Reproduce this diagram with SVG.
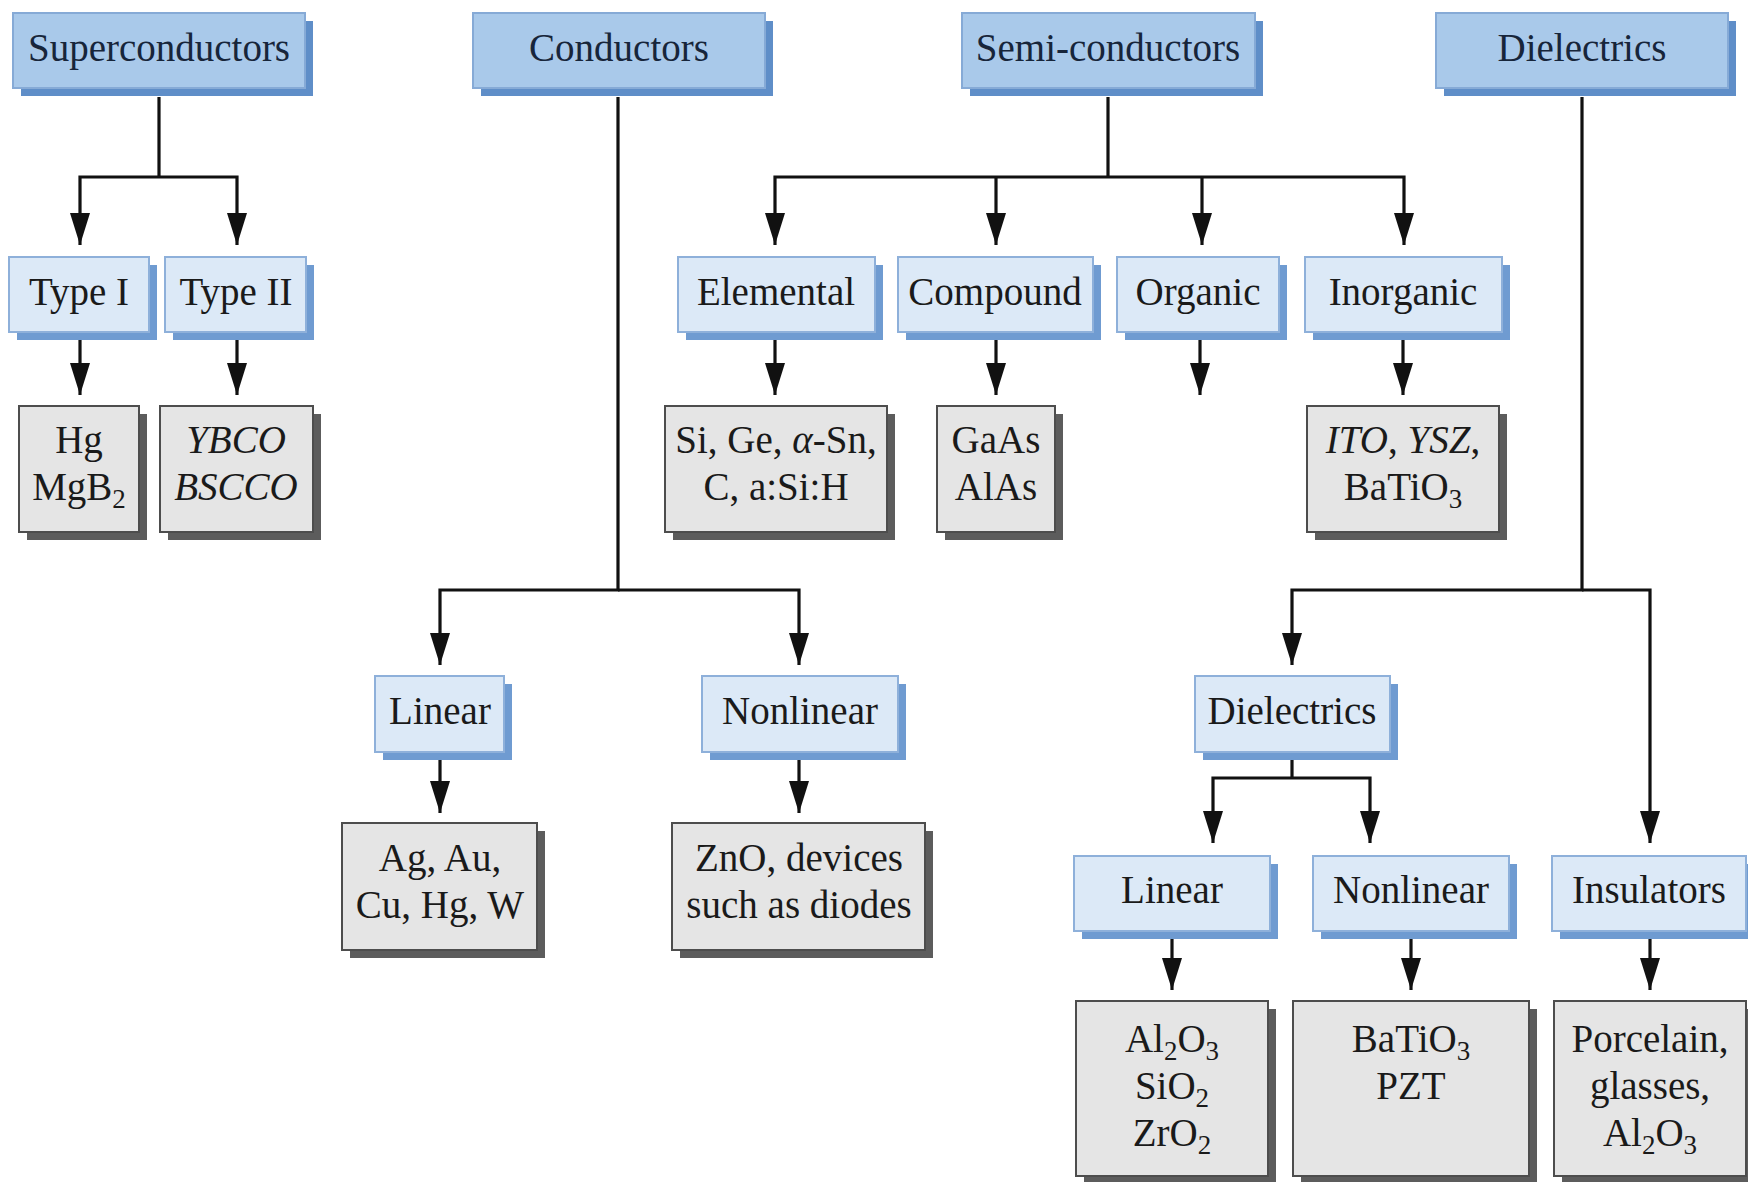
<svg xmlns="http://www.w3.org/2000/svg" width="1748" height="1182" viewBox="0 0 1748 1182">
<style>
text{font-family:"Liberation Serif","Times New Roman",serif;font-size:39px;text-anchor:middle;fill:#1a1a1a}
.top .f{fill:#a9c9ea;stroke:#86aad6;stroke-width:2}
.top .s{fill:#5f8ec8}
.top text{fill:#17253a}
.mid .f{fill:#dce9f7;stroke:#8eb0da;stroke-width:2}
.mid .s{fill:#6f9bd1}
.leaf .f{fill:#e5e5e5;stroke:#4d4d4d;stroke-width:2}
.leaf .s{fill:#5c5c5c}
.i{font-style:italic}
.sub{font-size:27px}
#connectors path{fill:none;stroke:#111;stroke-width:3.2;marker-end:url(#ah)}
#connectors path.nl{marker-end:none}
</style>
<defs>
<marker id="ah" viewBox="0 0 32 20" refX="32" refY="10" markerWidth="32" markerHeight="20" markerUnits="userSpaceOnUse" orient="auto">
<path d="M0,0 L32,10 L0,20 z" fill="#111"/>
</marker>
</defs>
<rect width="1748" height="1182" fill="#fff"/>

<g id="connectors">
<path class="nl" d="M159,97 V177"/>
<path d="M159,177 H80 V245"/>
<path d="M159,177 H237 V245"/>
<path d="M80,340 V395"/>
<path d="M237,340 V395"/>
<path d="M618,97 V590 H440 V665"/>
<path d="M618,590 H799 V665"/>
<path d="M440,760 V813"/>
<path d="M799,760 V813"/>
<path class="nl" d="M1108,97 V177"/>
<path d="M1108,177 H775 V245"/>
<path d="M1108,177 H1404 V245"/>
<path d="M996,177 V245"/>
<path d="M1202,177 V245"/>
<path d="M775,340 V395"/>
<path d="M996,340 V395"/>
<path d="M1200,340 V395"/>
<path d="M1403,340 V395"/>
<path d="M1582,97 V590 H1292 V665"/>
<path d="M1582,590 H1650 V843"/>
<path class="nl" d="M1292,760 V778"/>
<path d="M1292,778 H1213 V843"/>
<path d="M1292,778 H1370 V843"/>
<path d="M1172,938 V990"/>
<path d="M1411,938 V990"/>
<path d="M1650,938 V990"/>
</g>

<g id="superconductors" class="top"><rect class="s" x="21" y="21" width="292" height="75"/><rect class="f" x="13" y="13" width="292" height="75"/><text x="159" y="61">Superconductors</text></g>
<g id="conductors" class="top"><rect class="s" x="481" y="21" width="292" height="75"/><rect class="f" x="473" y="13" width="292" height="75"/><text x="619" y="61">Conductors</text></g>
<g id="semiconductors" class="top"><rect class="s" x="970" y="21" width="293" height="75"/><rect class="f" x="962" y="13" width="293" height="75"/><text x="1108" y="61">Semi-conductors</text></g>
<g id="dielectrics" class="top"><rect class="s" x="1444" y="21" width="292" height="75"/><rect class="f" x="1436" y="13" width="292" height="75"/><text x="1582" y="61">Dielectrics</text></g>

<g id="type1" class="mid"><rect class="s" x="17" y="265" width="140" height="75"/><rect class="f" x="9" y="257" width="140" height="75"/><text x="79" y="305">Type I</text></g>
<g id="type2" class="mid"><rect class="s" x="173" y="265" width="141" height="75"/><rect class="f" x="165" y="257" width="141" height="75"/><text x="236" y="305">Type II</text></g>
<g id="elemental" class="mid"><rect class="s" x="686" y="265" width="197" height="75"/><rect class="f" x="678" y="257" width="197" height="75"/><text x="776" y="305">Elemental</text></g>
<g id="compound" class="mid"><rect class="s" x="906" y="265" width="195" height="75"/><rect class="f" x="898" y="257" width="195" height="75"/><text x="995" y="305">Compound</text></g>
<g id="organic" class="mid"><rect class="s" x="1125" y="265" width="162" height="75"/><rect class="f" x="1117" y="257" width="162" height="75"/><text x="1198" y="305">Organic</text></g>
<g id="inorganic" class="mid"><rect class="s" x="1313" y="265" width="197" height="75"/><rect class="f" x="1305" y="257" width="197" height="75"/><text x="1403" y="305">Inorganic</text></g>

<g id="hg" class="leaf"><rect class="s" x="27" y="414" width="120" height="126"/><rect class="f" x="19" y="406" width="120" height="126"/><text x="79" y="453">Hg</text><text x="79" y="500">MgB<tspan class="sub" dy="8">2</tspan></text></g>
<g id="ybco" class="leaf"><rect class="s" x="168" y="414" width="153" height="126"/><rect class="f" x="160" y="406" width="153" height="126"/><text x="236" y="453" class="i">YBCO</text><text x="236" y="500" class="i">BSCCO</text></g>
<g id="si" class="leaf"><rect class="s" x="673" y="414" width="222" height="126"/><rect class="f" x="665" y="406" width="222" height="126"/><text x="776" y="453">Si, Ge, <tspan class="i">α</tspan>-Sn,</text><text x="776" y="500">C, a:Si:H</text></g>
<g id="gaas" class="leaf"><rect class="s" x="945" y="414" width="118" height="126"/><rect class="f" x="937" y="406" width="118" height="126"/><text x="996" y="453">GaAs</text><text x="996" y="500">AlAs</text></g>
<g id="ito" class="leaf"><rect class="s" x="1315" y="414" width="192" height="126"/><rect class="f" x="1307" y="406" width="192" height="126"/><text x="1403" y="453"><tspan class="i">ITO</tspan>, <tspan class="i">YSZ</tspan>,</text><text x="1403" y="500">BaTiO<tspan class="sub" dy="8">3</tspan></text></g>

<g id="linear1" class="mid"><rect class="s" x="383" y="684" width="129" height="76"/><rect class="f" x="375" y="676" width="129" height="76"/><text x="440" y="724">Linear</text></g>
<g id="nonlinear1" class="mid"><rect class="s" x="710" y="684" width="196" height="76"/><rect class="f" x="702" y="676" width="196" height="76"/><text x="800" y="724">Nonlinear</text></g>
<g id="ag" class="leaf"><rect class="s" x="350" y="831" width="195" height="127"/><rect class="f" x="342" y="823" width="195" height="127"/><text x="440" y="871">Ag, Au,</text><text x="440" y="918">Cu, Hg, W</text></g>
<g id="zno" class="leaf"><rect class="s" x="680" y="831" width="253" height="127"/><rect class="f" x="672" y="823" width="253" height="127"/><text x="799" y="871">ZnO, devices</text><text x="799" y="918">such as diodes</text></g>

<g id="dielectrics2" class="mid"><rect class="s" x="1203" y="684" width="195" height="76"/><rect class="f" x="1195" y="676" width="195" height="76"/><text x="1292" y="724">Dielectrics</text></g>
<g id="linear2" class="mid"><rect class="s" x="1082" y="864" width="196" height="75"/><rect class="f" x="1074" y="856" width="196" height="75"/><text x="1172" y="903">Linear</text></g>
<g id="nonlinear2" class="mid"><rect class="s" x="1321" y="864" width="196" height="75"/><rect class="f" x="1313" y="856" width="196" height="75"/><text x="1411" y="903">Nonlinear</text></g>
<g id="insulators" class="mid"><rect class="s" x="1560" y="864" width="194" height="75"/><rect class="f" x="1552" y="856" width="194" height="75"/><text x="1649" y="903">Insulators</text></g>

<g id="al2o3" class="leaf"><rect class="s" x="1084" y="1009" width="192" height="175"/><rect class="f" x="1076" y="1001" width="192" height="175"/><text x="1172" y="1052">Al<tspan class="sub" dy="8">2</tspan><tspan dy="-8">O</tspan><tspan class="sub" dy="8">3</tspan></text><text x="1172" y="1099">SiO<tspan class="sub" dy="8">2</tspan></text><text x="1172" y="1146">ZrO<tspan class="sub" dy="8">2</tspan></text></g>
<g id="batio3" class="leaf"><rect class="s" x="1301" y="1009" width="236" height="175"/><rect class="f" x="1293" y="1001" width="236" height="175"/><text x="1411" y="1052">BaTiO<tspan class="sub" dy="8">3</tspan></text><text x="1411" y="1099">PZT</text></g>
<g id="porcelain" class="leaf"><rect class="s" x="1562" y="1009" width="192" height="175"/><rect class="f" x="1554" y="1001" width="192" height="175"/><text x="1650" y="1052">Porcelain,</text><text x="1650" y="1099">glasses,</text><text x="1650" y="1146">Al<tspan class="sub" dy="8">2</tspan><tspan dy="-8">O</tspan><tspan class="sub" dy="8">3</tspan></text></g>
</svg>
